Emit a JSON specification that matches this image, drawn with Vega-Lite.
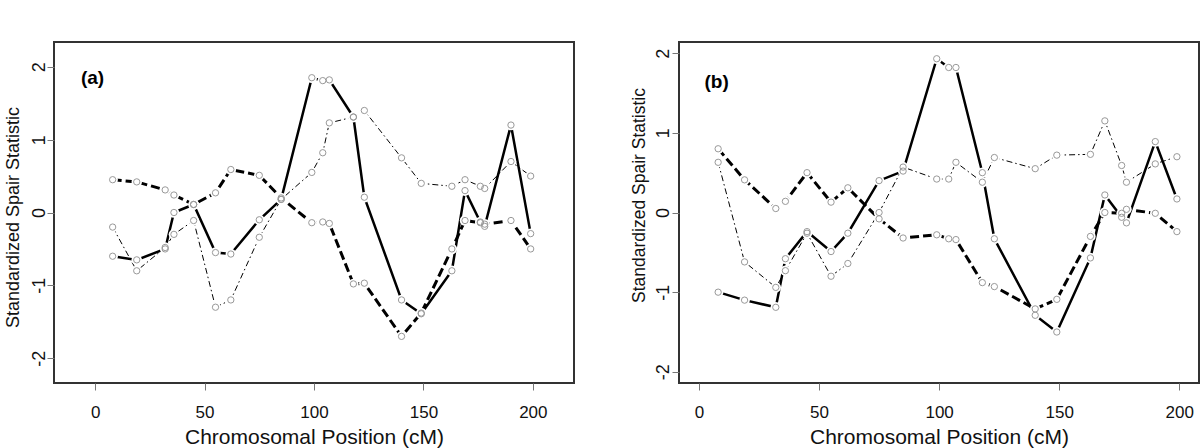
{
  "$schema": "https://vega.github.io/schema/vega-lite/v6.json",
  "bounds": "flush",
  "spacing": 105,
  "padding": {"left": 3, "top": 41, "right": 0, "bottom": 0},
  "config": {
    "font": "Liberation Sans",
    "view": {"stroke": "#333", "strokeWidth": 2},
    "axis": {"grid": false, "domain": false, "tickSize": 7, "tickColor": "#777", "tickWidth": 1, "labelColor": "#111", "titleColor": "#111", "titleFontWeight": "normal", "labelFontSize": 17, "titleFontSize": 18, "labelFlush": false, "labelOverlap": false}
  },
  "datasets": {
    "a": [
      {"pos": 8, "value": -0.60, "series": "solid"},
      {"pos": 19, "value": -0.65, "series": "solid"},
      {"pos": 32, "value": -0.50, "series": "solid"},
      {"pos": 36, "value": 0.00, "series": "solid"},
      {"pos": 45, "value": 0.11, "series": "solid"},
      {"pos": 55, "value": -0.55, "series": "solid"},
      {"pos": 62, "value": -0.57, "series": "solid"},
      {"pos": 75, "value": -0.10, "series": "solid"},
      {"pos": 85, "value": 0.18, "series": "solid"},
      {"pos": 99, "value": 1.85, "series": "solid"},
      {"pos": 104, "value": 1.81, "series": "solid"},
      {"pos": 107, "value": 1.82, "series": "solid"},
      {"pos": 118, "value": 1.31, "series": "solid"},
      {"pos": 123, "value": 0.21, "series": "solid"},
      {"pos": 140, "value": -1.20, "series": "solid"},
      {"pos": 149, "value": -1.39, "series": "solid"},
      {"pos": 163, "value": -0.80, "series": "solid"},
      {"pos": 169, "value": 0.30, "series": "solid"},
      {"pos": 176, "value": -0.13, "series": "solid"},
      {"pos": 178, "value": -0.19, "series": "solid"},
      {"pos": 190, "value": 1.20, "series": "solid"},
      {"pos": 199, "value": -0.29, "series": "solid"},
      {"pos": 8, "value": 0.45, "series": "dashed"},
      {"pos": 19, "value": 0.42, "series": "dashed"},
      {"pos": 32, "value": 0.31, "series": "dashed"},
      {"pos": 36, "value": 0.24, "series": "dashed"},
      {"pos": 45, "value": 0.11, "series": "dashed"},
      {"pos": 55, "value": 0.27, "series": "dashed"},
      {"pos": 62, "value": 0.59, "series": "dashed"},
      {"pos": 75, "value": 0.51, "series": "dashed"},
      {"pos": 85, "value": 0.20, "series": "dashed"},
      {"pos": 99, "value": -0.14, "series": "dashed"},
      {"pos": 104, "value": -0.13, "series": "dashed"},
      {"pos": 107, "value": -0.15, "series": "dashed"},
      {"pos": 118, "value": -0.98, "series": "dashed"},
      {"pos": 123, "value": -0.97, "series": "dashed"},
      {"pos": 140, "value": -1.70, "series": "dashed"},
      {"pos": 149, "value": -1.38, "series": "dashed"},
      {"pos": 163, "value": -0.50, "series": "dashed"},
      {"pos": 169, "value": -0.11, "series": "dashed"},
      {"pos": 176, "value": -0.14, "series": "dashed"},
      {"pos": 178, "value": -0.16, "series": "dashed"},
      {"pos": 190, "value": -0.11, "series": "dashed"},
      {"pos": 199, "value": -0.50, "series": "dashed"},
      {"pos": 8, "value": -0.20, "series": "dotdash"},
      {"pos": 19, "value": -0.80, "series": "dotdash"},
      {"pos": 32, "value": -0.48, "series": "dotdash"},
      {"pos": 36, "value": -0.30, "series": "dotdash"},
      {"pos": 45, "value": -0.11, "series": "dotdash"},
      {"pos": 55, "value": -1.30, "series": "dotdash"},
      {"pos": 62, "value": -1.20, "series": "dotdash"},
      {"pos": 75, "value": -0.34, "series": "dotdash"},
      {"pos": 85, "value": 0.18, "series": "dotdash"},
      {"pos": 99, "value": 0.55, "series": "dotdash"},
      {"pos": 104, "value": 0.82, "series": "dotdash"},
      {"pos": 107, "value": 1.23, "series": "dotdash"},
      {"pos": 118, "value": 1.31, "series": "dotdash"},
      {"pos": 123, "value": 1.40, "series": "dotdash"},
      {"pos": 140, "value": 0.75, "series": "dotdash"},
      {"pos": 149, "value": 0.40, "series": "dotdash"},
      {"pos": 163, "value": 0.36, "series": "dotdash"},
      {"pos": 169, "value": 0.45, "series": "dotdash"},
      {"pos": 176, "value": 0.36, "series": "dotdash"},
      {"pos": 178, "value": 0.33, "series": "dotdash"},
      {"pos": 190, "value": 0.70, "series": "dotdash"},
      {"pos": 199, "value": 0.50, "series": "dotdash"}
    ],
    "b": [
      {"pos": 8, "value": -1.00, "series": "solid"},
      {"pos": 19, "value": -1.10, "series": "solid"},
      {"pos": 32, "value": -1.19, "series": "solid"},
      {"pos": 36, "value": -0.58, "series": "solid"},
      {"pos": 45, "value": -0.24, "series": "solid"},
      {"pos": 55, "value": -0.49, "series": "solid"},
      {"pos": 62, "value": -0.26, "series": "solid"},
      {"pos": 75, "value": 0.40, "series": "solid"},
      {"pos": 85, "value": 0.52, "series": "solid"},
      {"pos": 99, "value": 1.93, "series": "solid"},
      {"pos": 104, "value": 1.82, "series": "solid"},
      {"pos": 107, "value": 1.82, "series": "solid"},
      {"pos": 118, "value": 0.50, "series": "solid"},
      {"pos": 123, "value": -0.33, "series": "solid"},
      {"pos": 140, "value": -1.29, "series": "solid"},
      {"pos": 149, "value": -1.50, "series": "solid"},
      {"pos": 163, "value": -0.57, "series": "solid"},
      {"pos": 169, "value": 0.22, "series": "solid"},
      {"pos": 176, "value": -0.06, "series": "solid"},
      {"pos": 178, "value": -0.13, "series": "solid"},
      {"pos": 190, "value": 0.89, "series": "solid"},
      {"pos": 199, "value": 0.17, "series": "solid"},
      {"pos": 8, "value": 0.80, "series": "dashed"},
      {"pos": 19, "value": 0.41, "series": "dashed"},
      {"pos": 32, "value": 0.05, "series": "dashed"},
      {"pos": 36, "value": 0.14, "series": "dashed"},
      {"pos": 45, "value": 0.50, "series": "dashed"},
      {"pos": 55, "value": 0.13, "series": "dashed"},
      {"pos": 62, "value": 0.31, "series": "dashed"},
      {"pos": 75, "value": -0.08, "series": "dashed"},
      {"pos": 85, "value": -0.32, "series": "dashed"},
      {"pos": 99, "value": -0.28, "series": "dashed"},
      {"pos": 104, "value": -0.33, "series": "dashed"},
      {"pos": 107, "value": -0.34, "series": "dashed"},
      {"pos": 118, "value": -0.88, "series": "dashed"},
      {"pos": 123, "value": -0.93, "series": "dashed"},
      {"pos": 140, "value": -1.21, "series": "dashed"},
      {"pos": 149, "value": -1.09, "series": "dashed"},
      {"pos": 163, "value": -0.30, "series": "dashed"},
      {"pos": 169, "value": 0.00, "series": "dashed"},
      {"pos": 176, "value": -0.01, "series": "dashed"},
      {"pos": 178, "value": 0.04, "series": "dashed"},
      {"pos": 190, "value": -0.01, "series": "dashed"},
      {"pos": 199, "value": -0.24, "series": "dashed"},
      {"pos": 8, "value": 0.63, "series": "dotdash"},
      {"pos": 19, "value": -0.62, "series": "dotdash"},
      {"pos": 32, "value": -0.94, "series": "dotdash"},
      {"pos": 36, "value": -0.73, "series": "dotdash"},
      {"pos": 45, "value": -0.26, "series": "dotdash"},
      {"pos": 55, "value": -0.80, "series": "dotdash"},
      {"pos": 62, "value": -0.64, "series": "dotdash"},
      {"pos": 75, "value": 0.00, "series": "dotdash"},
      {"pos": 85, "value": 0.57, "series": "dotdash"},
      {"pos": 99, "value": 0.42, "series": "dotdash"},
      {"pos": 104, "value": 0.42, "series": "dotdash"},
      {"pos": 107, "value": 0.63, "series": "dotdash"},
      {"pos": 118, "value": 0.38, "series": "dotdash"},
      {"pos": 123, "value": 0.69, "series": "dotdash"},
      {"pos": 140, "value": 0.55, "series": "dotdash"},
      {"pos": 149, "value": 0.72, "series": "dotdash"},
      {"pos": 163, "value": 0.73, "series": "dotdash"},
      {"pos": 169, "value": 1.15, "series": "dotdash"},
      {"pos": 176, "value": 0.59, "series": "dotdash"},
      {"pos": 178, "value": 0.38, "series": "dotdash"},
      {"pos": 190, "value": 0.61, "series": "dotdash"},
      {"pos": 199, "value": 0.70, "series": "dotdash"}
    ]
  },
  "hconcat": [
    {
      "width": 520,
      "height": 341,
      "data": {"name": "a"},
      "encoding": {
        "x": {"field": "pos", "type": "quantitative", "scale": {"domain": [-18.8, 218.8], "nice": false, "zero": false},
          "axis": {"title": "Chromosomal Position (cM)", "values": [0, 50, 100, 150, 200], "labelBaseline": "alphabetic", "labelPadding": 27, "titleBaseline": "alphabetic", "titleY": 60, "titleX": 260, "titleAlign": "center", "titleFontSize": 21}},
        "y": {"field": "value", "type": "quantitative", "scale": {"domain": [-2.34, 2.34], "nice": false, "zero": false},
          "axis": {"title": "Standardized Spair Statistic", "values": [-2, -1, 0, 1, 2], "labelExpr": "'' + datum.value", "labelFontSize": 18, "labelAngle": 270, "labelAlign": "center", "labelBaseline": "alphabetic", "labelPadding": 3, "titleAngle": 270, "titleBaseline": "alphabetic", "titleAlign": "center", "titleX": -36, "titleY": 175}}
      },
      "layer": [
        {"transform": [{"filter": "datum.series == 'dotdash'"}],
          "mark": {"type": "line", "color": "black", "strokeWidth": 1, "strokeDash": [6, 3, 1.5, 3]}},
        {"transform": [{"filter": "datum.series == 'dashed'"}],
          "mark": {"type": "line", "color": "black", "strokeWidth": 3, "strokeDash": [9, 4]}},
        {"transform": [{"filter": "datum.series == 'solid'"}],
          "mark": {"type": "line", "color": "black", "strokeWidth": 2.5}},
        {"mark": {"type": "point", "shape": "circle", "filled": true, "color": "white", "opacity": 1, "size": 110}},
        {"mark": {"type": "point", "shape": "circle", "filled": false, "color": "#999", "strokeWidth": 1, "opacity": 1, "size": 40}},
        {"data": {"values": [{"label": "(a)", "pos": -6.5, "value": 1.84}]},
          "mark": {"type": "text", "align": "left", "baseline": "middle", "fontWeight": "bold", "fontSize": 19, "color": "black"},
          "encoding": {"text": {"field": "label"}}}
      ]
    },
    {
      "width": 520,
      "height": 341,
      "data": {"name": "b"},
      "encoding": {
        "x": {"field": "pos", "type": "quantitative", "scale": {"domain": [-8.3, 208.2], "nice": false, "zero": false},
          "axis": {"title": "Chromosomal Position (cM)", "values": [0, 50, 100, 150, 200], "labelBaseline": "alphabetic", "labelPadding": 27, "titleBaseline": "alphabetic", "titleY": 60, "titleX": 260, "titleAlign": "center", "titleFontSize": 21}},
        "y": {"field": "value", "type": "quantitative", "scale": {"domain": [-2.14, 2.14], "nice": false, "zero": false},
          "axis": {"title": "Standardized Spair Statistic", "values": [-2, -1, 0, 1, 2], "labelExpr": "'' + datum.value", "labelFontSize": 18, "labelAngle": 270, "labelAlign": "center", "labelBaseline": "alphabetic", "labelPadding": 4, "titleAngle": 270, "titleBaseline": "alphabetic", "titleAlign": "center", "titleX": -35, "titleFontSize": 17.5, "titleY": 153}}
      },
      "layer": [
        {"transform": [{"filter": "datum.series == 'dotdash'"}],
          "mark": {"type": "line", "color": "black", "strokeWidth": 1, "strokeDash": [6, 3, 1.5, 3]}},
        {"transform": [{"filter": "datum.series == 'dashed'"}],
          "mark": {"type": "line", "color": "black", "strokeWidth": 3, "strokeDash": [9, 4]}},
        {"transform": [{"filter": "datum.series == 'solid'"}],
          "mark": {"type": "line", "color": "black", "strokeWidth": 2.5}},
        {"mark": {"type": "point", "shape": "circle", "filled": true, "color": "white", "opacity": 1, "size": 110}},
        {"mark": {"type": "point", "shape": "circle", "filled": false, "color": "#999", "strokeWidth": 1, "opacity": 1, "size": 40}},
        {"data": {"values": [{"label": "(b)", "pos": 2.3, "value": 1.64}]},
          "mark": {"type": "text", "align": "left", "baseline": "middle", "fontWeight": "bold", "fontSize": 19, "color": "black"},
          "encoding": {"text": {"field": "label"}}}
      ]
    }
  ]
}
